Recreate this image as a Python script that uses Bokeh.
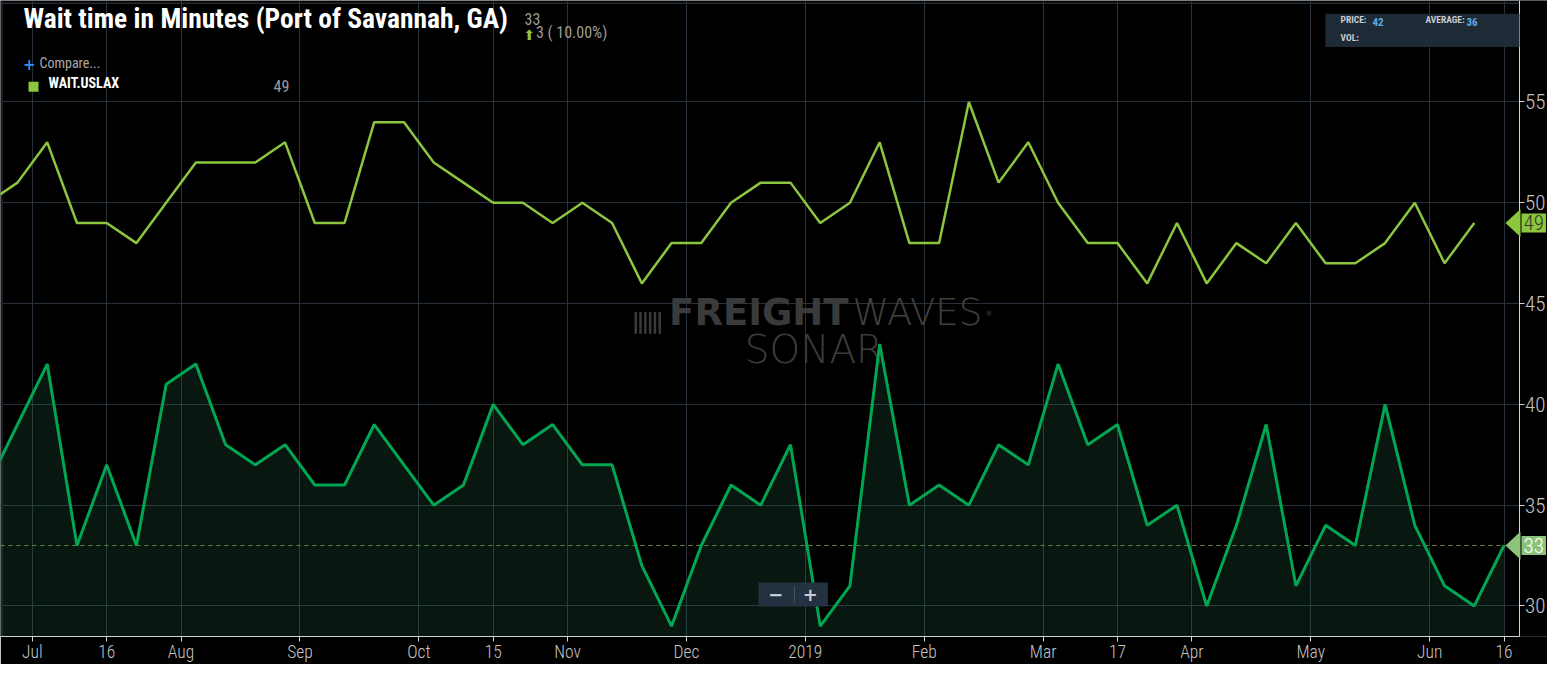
from bokeh.plotting import figure
from bokeh.models import Range1d, FixedTicker, Label, Span, BoxAnnotation, PolyAnnotation
from bokeh.embed import file_html
from bokeh.resources import INLINE

# ---------------- data ----------------
week_index = list(range(52))
savannah_wait = [36, 39, 42, 33, 37, 33, 41, 42, 38, 37, 38,
                 36, 36, 39, 37, 35, 36, 40, 38, 39, 37,
                 37, 32, 29, 33, 36, 35, 38, 29, 31, 43,
                 35, 36, 35, 38, 37, 42, 38, 39, 34, 35,
                 30, 34, 39, 31, 34, 33, 40, 34, 31, 30, 33]
uslax_wait = [50, 51, 53, 49, 49, 48, 50, 52, 52, 52, 53,
              49, 49, 54, 54, 52, 51, 50, 50, 49, 50,
              49, 46, 48, 48, 50, 51, 51, 49, 50, 53,
              48, 48, 55, 51, 53, 50, 48, 48, 46, 49,
              46, 48, 47, 49, 47, 47, 48, 50, 47, 49]
x_tick_positions = [1.5, 4, 6.5, 10.5, 14.5, 17, 19.5, 23.5, 27.5, 31.5, 35.5, 38, 40.5, 44.5, 48.5, 51]
x_tick_labels = ["Jul", "16", "Aug", "Sep", "Oct", "15", "Nov", "Dec", "2019",
                 "Feb", "Mar", "17", "Apr", "May", "Jun", "16"]
y_ticks = [30, 35, 40, 45, 50, 55]
hover_price = 42

# ---------------- layout helpers (reference pixel -> data) ----------------
REF_X1, REF_DX = 17.0, 29.73
REF_Y55, REF_DY = 101.7, 20.2


def rx(px):
    return 1 + (px - REF_X1) / REF_DX


def ry(py):
    return 55 - (py - REF_Y55) / REF_DY


AXIS_PX = 1518.6
COND = "'Roboto Condensed', 'Liberation Sans Narrow', 'Arial Narrow', sans-serif"
COND_LIGHT = "'Roboto Condensed Light', 'Roboto Condensed', 'Liberation Sans Narrow', sans-serif"
THIN = "'DejaVu Sans ExtraLight', 'DejaVu Sans Light', 'Lato Light', 'DejaVu Sans', sans-serif"

UP_COLOR = "#8cc63e"
LOW_COLOR = "#00a651"

p = figure(frame_width=1547, frame_height=636,
           x_range=Range1d(rx(0), rx(1547)), y_range=Range1d(ry(637.3), ry(0)),
           y_axis_location="right", output_backend="svg", toolbar_location=None,
           min_border_left=0, min_border_top=0, min_border_right=0, min_border_bottom=25,
           background_fill_color="black", border_fill_color="black", outline_line_color=None)

p.xaxis.ticker = FixedTicker(ticks=x_tick_positions)
p.xaxis.major_label_overrides = {t: l for t, l in zip(x_tick_positions, x_tick_labels)}
p.xaxis.bounds = (rx(0), rx(AXIS_PX))
p.yaxis.ticker = FixedTicker(ticks=y_ticks)
p.yaxis.fixed_location = rx(AXIS_PX)
p.grid.grid_line_color = "#27313b"
p.grid.grid_line_width = 1

for ax in (p.xaxis[0], p.yaxis[0]):
    ax.axis_line_color = "#d4d4d4"
    ax.major_tick_line_color = "#d4d4d4"
    ax.minor_tick_line_color = None
    ax.major_tick_in = 0
    ax.major_tick_out = 5
    ax.major_label_text_color = "#c4c4c4"
    ax.major_label_text_font = COND_LIGHT
p.xaxis.major_label_text_font_size = "17.5px"
p.xaxis.major_label_standoff = 0
p.yaxis.major_label_text_font_size = "21px"
p.yaxis.major_label_standoff = 1

# ---------------- frame edges ----------------
p.add_layout(BoxAnnotation(left=rx(0), right=rx(2.5), top=ry(0), bottom=ry(637.3),
                           fill_color="#161c22", fill_alpha=1, line_alpha=0, level="underlay"))
p.add_layout(Span(location=ry(2.7), dimension="width", line_color="#333d48", line_width=1,
                  level="underlay"))

# ---------------- watermark ----------------
wm_col = "#3a3a3a"
for k in range(6):
    p.add_layout(BoxAnnotation(left=rx(634 + k * 4.8), right=rx(636.5 + k * 4.8),
                               top=ry(312), bottom=ry(334), fill_color=wm_col, fill_alpha=1,
                               line_alpha=0, level="underlay"))
p.add_layout(Label(x=rx(848), y=ry(334.3), text="FREIGHT", text_align="right",
                   text_font="'DejaVu Sans', sans-serif", text_font_style="bold",
                   text_font_size="37px", text_color=wm_col, level="underlay"))
p.add_layout(Label(x=rx(852), y=ry(334.3), text="WAVES", text_align="left",
                   text_font=THIN, text_font_size="37px", text_color="#404040", level="underlay"))
p.add_layout(Label(x=rx(985), y=ry(318), text="\u00ae", text_align="left",
                   text_font="'DejaVu Sans', sans-serif", text_font_size="7px",
                   text_color="#404040", level="underlay"))
p.add_layout(Label(x=rx(813.5), y=ry(372.7), text="SONAR", text_align="center",
                   text_font=THIN, text_font_size="39px", text_color="#3c3c3c", level="underlay"))

# ---------------- series ----------------
p.add_layout(Span(location=savannah_wait[-1], dimension="width", line_color=UP_COLOR,
                  line_dash="4 4", line_width=1, line_alpha=0.75, level="underlay"))
# area right of the price axis stays empty
p.add_layout(BoxAnnotation(left=rx(AXIS_PX + 0.6), right=rx(1547), top=ry(0), bottom=ry(637.3),
                           fill_color="black", fill_alpha=1, line_alpha=0, level="underlay"))

bottom_val = p.y_range.start
p.varea(x=week_index, y1=[bottom_val] * len(week_index), y2=savannah_wait,
        fill_color="#2a7a55", fill_alpha=0.2)
p.line(week_index, savannah_wait, line_color=LOW_COLOR, line_width=3)
p.line(week_index[:len(uslax_wait)], uslax_wait, line_color=UP_COLOR, line_width=2.5)


# ---------------- price tags on the right axis ----------------
def price_tag(v, fill, txt_col):
    h = 14.0 / REF_DY
    p.add_layout(PolyAnnotation(xs=[rx(1505), rx(1520), rx(1520)], ys=[v, v + h, v - h],
                                fill_color=fill, fill_alpha=1, line_alpha=0))
    p.add_layout(Label(x=rx(1521), y=v, text=str(v), text_align="left", text_baseline="middle",
                       text_font=COND_LIGHT, text_font_size="21px", text_color=txt_col,
                       background_fill_color=fill, background_fill_alpha=1, padding=2))


price_tag(uslax_wait[-1], UP_COLOR, "#2f3a27")
price_tag(savannah_wait[-1], "#8bc37a", "#ffffff")

# ---------------- header texts ----------------
change = savannah_wait[-1] - savannah_wait[-2]
pct = 100.0 * change / savannah_wait[-2]
p.add_layout(Label(x=rx(23), y=ry(34.5), text="Wait time in Minutes (Port of Savannah, GA)",
                   text_font=COND, text_font_style="bold", text_font_size="27.5px", text_color="white"))
p.add_layout(Label(x=rx(524), y=ry(24.5), text=str(savannah_wait[-1]), text_font=COND,
                   text_font_size="16px", text_color="#9c9c9c"))
p.add_layout(Label(x=rx(523), y=ry(42.5), text="\u2b06", text_font="'DejaVu Sans', sans-serif",
                   text_font_size="14px", text_color=UP_COLOR))
p.add_layout(Label(x=rx(535.5), y=ry(42), text=f"{change} ( {pct:.2f}%)", text_font=COND,
                   text_font_size="16px", text_color="#9c9c9c"))
p.add_layout(Label(x=rx(22.5), y=ry(69.5), text="+", text_font="'DejaVu Sans', sans-serif",
                   text_font_style="bold", text_font_size="15px", text_color="#2d8ff0"))
p.add_layout(Label(x=rx(39), y=ry(71), text="Compare...", text_font=COND,
                   text_font_size="14px", text_color="#aaaaaa"))
p.add_layout(BoxAnnotation(left=rx(28), right=rx(38), top=ry(81.5), bottom=ry(91.5),
                           fill_color=UP_COLOR, fill_alpha=1, line_alpha=0))
p.add_layout(Label(x=rx(48), y=ry(91), text="WAIT.USLAX", text_font=COND, text_font_style="bold",
                   text_font_size="14px", text_color="white"))
p.add_layout(Label(x=rx(273), y=ry(91.5), text=str(uslax_wait[-1]), text_font=COND,
                   text_font_size="16px", text_color="#9c9c9c"))

# ---------------- info box (top right) ----------------
p.add_layout(BoxAnnotation(left=rx(1325), right=rx(1519), top=ry(13.3), bottom=ry(46.7),
                           fill_color="#1e2a35", fill_alpha=1, line_alpha=0))
info_font = COND
p.add_layout(Label(x=rx(1340), y=ry(25), text="PRICE:", text_font=info_font, text_font_style="bold",
                   text_font_size="9.5px", text_color="#c8ccd0"))
p.add_layout(Label(x=rx(1372), y=ry(25.3), text=str(hover_price), text_font=info_font,
                   text_font_style="bold", text_font_size="11px", text_color="#5aaee8"))
p.add_layout(Label(x=rx(1425), y=ry(25), text="AVERAGE:", text_font=info_font, text_font_style="bold",
                   text_font_size="9.5px", text_color="#c8ccd0"))
p.add_layout(Label(x=rx(1466), y=ry(25.3), text=str(round(sum(savannah_wait) / len(savannah_wait))),
                   text_font=info_font, text_font_style="bold", text_font_size="11px",
                   text_color="#5aaee8"))
p.add_layout(Label(x=rx(1340), y=ry(42.3), text="VOL:", text_font=info_font, text_font_style="bold",
                   text_font_size="9.5px", text_color="#c8ccd0"))

# ---------------- zoom buttons ----------------
p.add_layout(BoxAnnotation(left=rx(758), right=rx(827.4), top=ry(583.3), bottom=ry(607.3),
                           fill_color="#243140", fill_alpha=1, line_alpha=0))
p.add_layout(BoxAnnotation(left=rx(793.4), right=rx(794.4), top=ry(587), bottom=ry(603),
                           fill_color="#4a5663", fill_alpha=1, line_alpha=0))
p.add_layout(Label(x=rx(775.3), y=ry(595.7), text="\u2212", text_align="center", text_baseline="middle",
                   text_font="'DejaVu Sans', sans-serif", text_font_style="bold",
                   text_font_size="18px", text_color="#c5ccd3"))
p.add_layout(Label(x=rx(809.8), y=ry(595.7), text="+", text_align="center", text_baseline="middle",
                   text_font="'DejaVu Sans', sans-serif", text_font_style="bold",
                   text_font_size="18px", text_color="#c5ccd3"))

open("out.html", "w").write(file_html(p, INLINE))
